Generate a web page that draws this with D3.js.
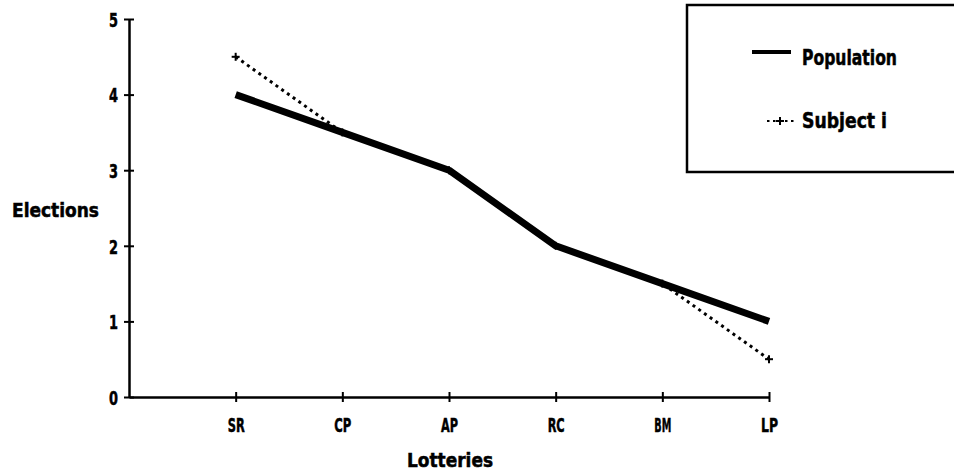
<!DOCTYPE html>
<html><head><meta charset="utf-8">
<script src="https://cdn.jsdelivr.net/npm/d3@7"></script>
<style>
body{margin:0;background:#fff;}
text{font-family:"DejaVu Sans Condensed","DejaVu Sans",sans-serif;font-weight:bold;fill:#000;stroke:#000;stroke-width:0.5px;}
</style></head><body>
<svg id="c" width="954" height="474"></svg>
<script>
const categories = ["SR","CP","AP","RC","BM","LP"];
const population = [4, 3.5, 3, 2, 1.5, 1];
const subject = [4.5, 3.5, 3, 2, 1.5, 0.5];
const yTicks = [0,1,2,3,4,5];
const seriesNames = ["Population","Subject i"];

const svg = d3.select("#c");
const x0 = 129, x1 = 769, yTop = 19, yBot = 397;
const x = d3.scaleLinear().domain([0, categories.length]).range([x0, x1]);
const y = d3.scaleLinear().domain([0,5]).range([yBot, yTop]);

// y axis
const yAx = svg.append("g").attr("transform",`translate(${x0},0)`)
  .call(d3.axisLeft(y).tickValues(yTicks).tickFormat(d3.format("d")).tickSizeInner(5).tickSizeOuter(0));
yAx.select(".domain").attr("stroke","#000").attr("stroke-width",2.5);
yAx.selectAll(".tick line").attr("x2",5).attr("x1",-5).attr("stroke-width",2);
yAx.selectAll(".tick text").style("font-size","20px").attr("x",-11).attr("dy","0.36em")
  .attr("textLength",9).attr("lengthAdjust","spacingAndGlyphs");

// x axis
const xAx = svg.append("g").attr("transform",`translate(0,${yBot})`)
  .call(d3.axisBottom(x).tickValues(d3.range(1,categories.length+1))
    .tickFormat(i=>categories[i-1]).tickSizeInner(5).tickSizeOuter(0));
xAx.select(".domain").attr("stroke","#000").attr("stroke-width",2.5);
xAx.selectAll(".tick line").attr("y1",-5).attr("y2",5).attr("stroke-width",2);
xAx.selectAll(".tick text").style("font-size","20px").attr("y",35).attr("dy",0)
  .attr("textLength",17).attr("lengthAdjust","spacingAndGlyphs");

// axis titles
svg.append("text").attr("x",12).attr("y",217).style("font-size","20px")
  .attr("textLength",87).attr("lengthAdjust","spacingAndGlyphs").text("Elections");
svg.append("text").attr("x",407).attr("y",467).style("font-size","20px")
  .attr("textLength",86).attr("lengthAdjust","spacingAndGlyphs").text("Lotteries");

const line = d3.line().x((d,i)=>x(i+1)).y(d=>y(d));

// subject line (dotted)
svg.append("path").datum(subject).attr("d",line).attr("fill","none")
  .attr("stroke","#000").attr("stroke-width",3).attr("stroke-dasharray","3,4");
// population line
svg.append("path").datum(population).attr("d",line).attr("fill","none")
  .attr("stroke","#000").attr("stroke-width",7).attr("stroke-linejoin","round");

// plus markers for subject
svg.selectAll(".pm").data(subject).enter().append("g")
  .attr("transform",(d,i)=>`translate(${x(i+1)},${y(d)})`)
  .each(function(){
    const g=d3.select(this);
    g.append("line").attr("x1",-4).attr("x2",4).attr("stroke","#000").attr("stroke-width",2);
    g.append("line").attr("y1",-4).attr("y2",4).attr("stroke","#000").attr("stroke-width",2);
  });

// legend
svg.append("rect").attr("x",687).attr("y",5).attr("width",290).attr("height",167)
  .attr("fill","none").attr("stroke","#000").attr("stroke-width",2.5);
svg.append("line").attr("x1",752).attr("x2",791).attr("y1",52).attr("y2",52).attr("stroke","#000").attr("stroke-width",4);
svg.append("text").attr("x",802).attr("y",65).style("font-size","21px")
  .attr("textLength",95).attr("lengthAdjust","spacingAndGlyphs").text(seriesNames[0]);
svg.append("line").attr("x1",767).attr("x2",794).attr("y1",121).attr("y2",121).attr("stroke","#000").attr("stroke-width",2).attr("stroke-dasharray","2.5,3.5");
svg.append("line").attr("x1",776).attr("x2",784).attr("y1",121).attr("y2",121).attr("stroke","#000").attr("stroke-width",2);
svg.append("line").attr("x1",780).attr("x2",780).attr("y1",117).attr("y2",125).attr("stroke","#000").attr("stroke-width",2);
svg.append("text").attr("x",802).attr("y",128).style("font-size","21px")
  .attr("textLength",85).attr("lengthAdjust","spacingAndGlyphs").text(seriesNames[1]);
</script>
</body></html>
